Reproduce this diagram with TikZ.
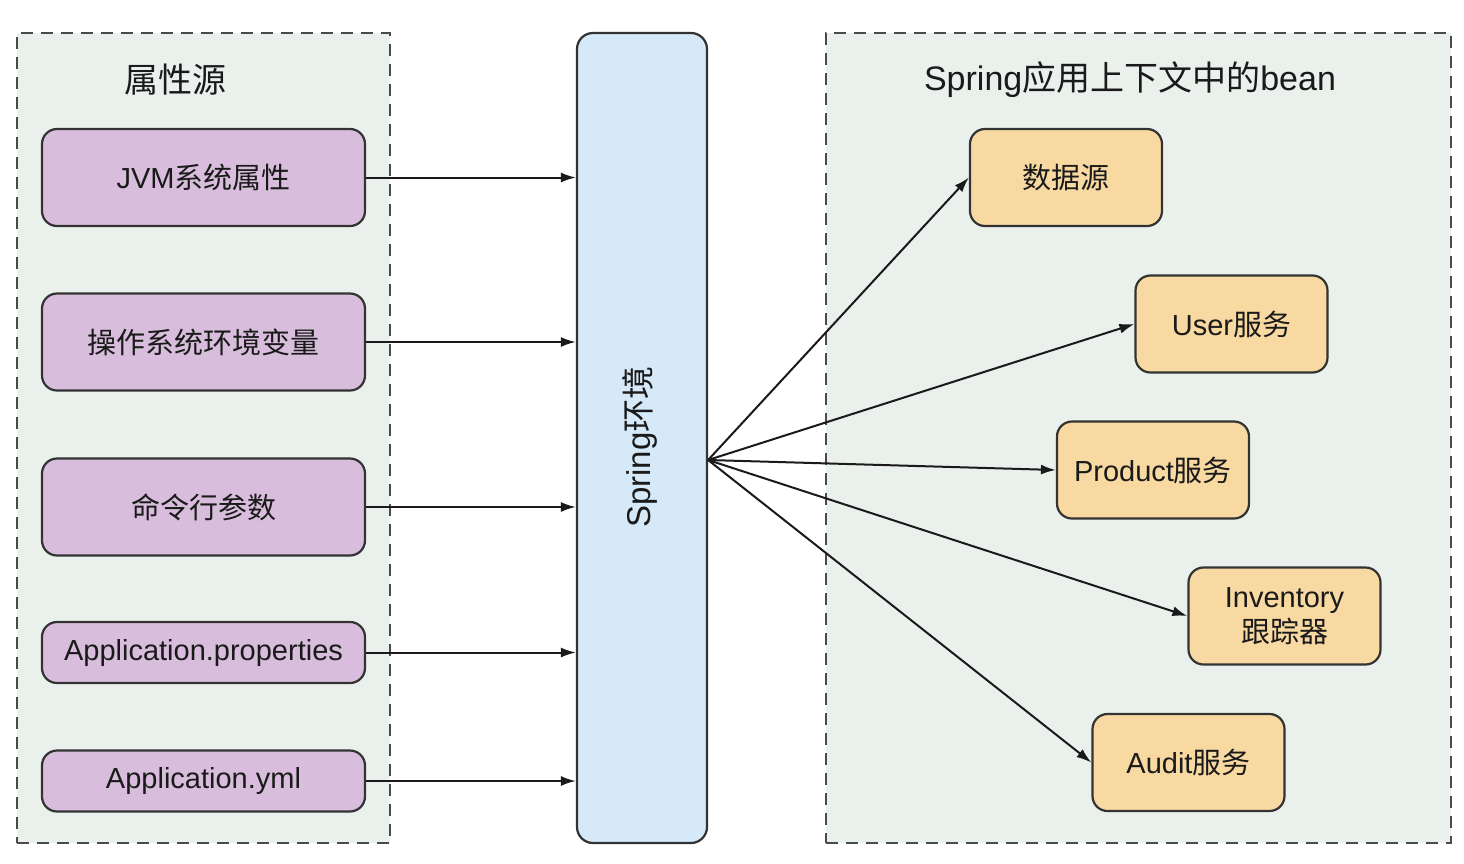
\documentclass[tikz,border=0pt]{standalone}
\usepackage{fontspec}
\setmainfont{Liberation Sans}
\newfontfamily\cjk{Noto Sans CJK SC}
\usetikzlibrary{arrows.meta}
\definecolor{groupfill}{HTML}{EAF1EC}
\definecolor{groupline}{HTML}{4A4A4A}
\definecolor{purplefill}{HTML}{D8BEDC}
\definecolor{bluefill}{HTML}{D5E9F8}
\definecolor{orangefill}{HTML}{F9D9A2}
\definecolor{edgeline}{HTML}{333333}
\definecolor{txt}{HTML}{1A1A1A}
\tikzset{
  group/.style={draw=groupline, fill=groupfill, line width=2.4pt, dash pattern=on 12pt off 8pt, inner sep=0pt},
  srcbox/.style={draw=edgeline, fill=purplefill, line width=2.2pt, rounded corners=15pt, minimum width=323pt, inner sep=0pt, text=txt, font=\fontsize{29}{35}\selectfont},
  beanbox/.style={draw=edgeline, fill=orangefill, line width=2.2pt, rounded corners=15pt, minimum width=192pt, minimum height=97pt, inner sep=0pt, text=txt, align=center, font=\fontsize{29}{35}\selectfont},
  envbox/.style={draw=edgeline, fill=bluefill, line width=2.2pt, rounded corners=16pt, minimum width=130pt, minimum height=810pt, inner sep=0pt},
  grouptitle/.style={text=txt, font=\fontsize{34}{40}\selectfont},
  conn/.style={draw=txt, line width=2pt, -{Latex[length=15pt,width=10pt]}}
}
\begin{document}
\begin{tikzpicture}[x=1pt,y=-1pt]
\useasboundingbox (0,0) rectangle (1464,863);
% containers
\node[group, minimum width=373pt, minimum height=810pt] (left) at (203.5,438) {};
\node[group, minimum width=625pt, minimum height=810pt] (right) at (1138.5,438) {};
\node[grouptitle] (lt) at (175,80) {\cjk 属性源};
\node[grouptitle] (rt) at (1130,80) {Spring{\cjk 应用上下文中的}bean};
% sources
\node[srcbox, minimum height=97pt] (jvm) at (203.5,177.5) {JVM{\cjk 系统属性}};
\node[srcbox, minimum height=97pt] (os) at (203.5,342) {\cjk 操作系统环境变量};
\node[srcbox, minimum height=97pt] (cmd) at (203.5,507) {\cjk 命令行参数};
\node[srcbox, minimum height=61pt] (props) at (203.5,652.5) {Application.properties};
\node[srcbox, minimum height=61pt] (yml) at (203.5,781) {Application.yml};
% environment
\node[envbox] (env) at (642,438) {};
\node[rotate=90, text=txt, font=\fontsize{33}{40}\selectfont] (envlabel) at (640,447) {Spring{\cjk 环境}};
\coordinate (hub) at ([yshift=-22pt]env.east);
% beans
\node[beanbox] (ds) at (1066,177.5) {\cjk 数据源};
\node[beanbox] (user) at (1231.5,324) {User{\cjk 服务}};
\node[beanbox] (prod) at (1153,470) {Product{\cjk 服务}};
\node[beanbox] (inv) at (1284.5,616) {Inventory\\{\cjk 跟踪器}};
\node[beanbox] (audit) at (1188.5,762.5) {Audit{\cjk 服务}};
% connectors
\foreach \s in {jvm,os,cmd,props,yml}
  \draw[conn] (\s.east) -- (\s.east -| env.west);
\foreach \t in {ds,user,prod,inv,audit}
  \draw[conn] (hub) -- (\t.west);
\end{tikzpicture}
\end{document}
